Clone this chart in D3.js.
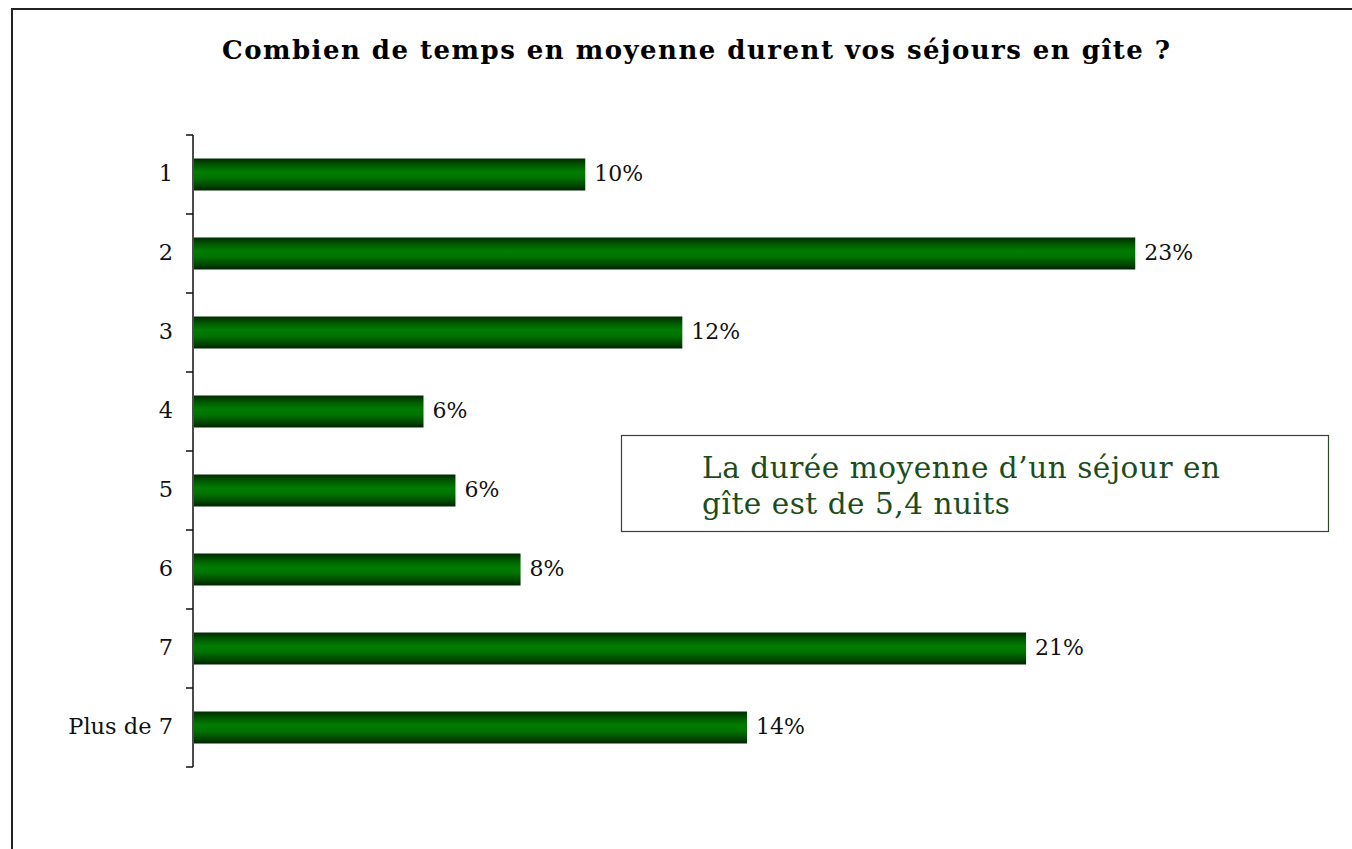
<!DOCTYPE html>
<head>
  <meta charset="utf-8">
  <title>Durée des séjours en gîte</title>
  <script src="https://cdn.jsdelivr.net/npm/d3@7"></script>
</head>

<style>
  body {
    margin: 0;
    background: #fff;
  }

  .title {
    font-family: "DejaVu Serif", serif;
    font-weight: bold;
    font-size: 26px;
  }

  .cat-label {
    font-family: "DejaVu Serif", serif;
    font-size: 22.5px;
    fill: #111;
  }

  .val-label {
    font-family: "DejaVu Serif", serif;
    font-size: 22px;
    fill: #111;
  }

  .note-text {
    font-family: "DejaVu Serif", serif;
    font-size: 29.5px;
    fill: #1b4d1b;
  }
</style>

<body>
  <svg id='chart'></svg>
</body>

<script>

var width = 1352,
    height = 849;

var categories = ['1', '2', '3', '4', '5', '6', '7', 'Plus de 7'];
var values = [0.097, 0.233, 0.121, 0.057, 0.0649, 0.081, 0.206, 0.137];
var title = 'Combien de temps en moyenne durent vos séjours en gîte ?';
var note_lines = ['La durée moyenne d\u2019un séjour en', 'gîte est de 5,4 nuits'];
var note_widths = [518, 308];

var svg = d3.select('#chart')
  .attr('width', width)
  .attr('height', height);

// gradient for the bars (dark edges, bright middle)
var grad = svg.append('defs').append('linearGradient')
  .attr('id', 'bar-grad')
  .attr('x1', 0).attr('y1', 0).attr('x2', 0).attr('y2', 1);
[[0, '#002a00'], [0.22, '#005c00'], [0.42, '#007c00'], [0.6, '#007400'], [0.8, '#005000'], [1, '#002400']]
  .forEach(function(s) {
    grad.append('stop').attr('offset', s[0]).attr('stop-color', s[1]);
  });

// outer frame
svg.append('rect')
  .attr('x', 12).attr('y', 9)
  .attr('width', width).attr('height', height)
  .attr('fill', 'none')
  .attr('stroke', '#222')
  .attr('stroke-width', 2);

svg.append('text')
  .attr('class', 'title')
  .attr('x', 222)
  .attr('y', 59)
  .attr('textLength', 948)
  .attr('lengthAdjust', 'spacing')
  .text(title);

var x0 = 193;

var x = d3.scaleLinear()
  .domain([0, 0.25])
  .range([x0, x0 + 1011]);

var y = d3.scaleBand()
  .domain(categories)
  .range([135, 767])
  .paddingInner(0.595)
  .paddingOuter(0.2975);

var gap = (y.step() - y.bandwidth()) / 2;

// axis line and boundary ticks
var axis_g = svg.append('g');
axis_g.append('line')
  .attr('x1', x0).attr('x2', x0)
  .attr('y1', 135).attr('y2', 767)
  .attr('stroke', '#111')
  .attr('stroke-width', 1.5);

var bounds = categories.map(function(d) { return y(d) - gap; }).concat([767]);
axis_g.selectAll('.tick-line')
  .data(bounds)
  .enter()
  .append('line')
  .attr('x1', x0 - 7).attr('x2', x0)
  .attr('y1', function(d) { return d; })
  .attr('y2', function(d) { return d; })
  .attr('stroke', '#111')
  .attr('stroke-width', 1.5);

svg.selectAll('.cat-label')
  .data(categories)
  .enter()
  .append('text')
  .attr('class', 'cat-label')
  .attr('x', 173)
  .attr('y', function(d) { return y(d) + y.bandwidth() / 2 + 6; })
  .attr('text-anchor', 'end')
  .text(function(d) { return d; });

svg.selectAll('.bar')
  .data(values)
  .enter()
  .append('rect')
  .attr('class', 'bar')
  .attr('x', x0 + 1)
  .attr('y', function(_, i) { return y(categories[i]); })
  .attr('width', function(d) { return x(d) - x0 - 1; })
  .attr('height', y.bandwidth())
  .attr('fill', 'url(#bar-grad)');

svg.selectAll('.val-label')
  .data(values)
  .enter()
  .append('text')
  .attr('class', 'val-label')
  .attr('x', function(d) { return x(d) + 9; })
  .attr('y', function(_, i) { return y(categories[i]) + y.bandwidth() / 2 + 6; })
  .text(function(d) { return Math.round(d * 100) + '%'; });

// note box
svg.append('rect')
  .attr('x', 621.5).attr('y', 435.5)
  .attr('width', 707).attr('height', 96)
  .attr('fill', '#fff')
  .attr('stroke', '#2e4a2e')
  .attr('stroke-width', 1.2);

svg.selectAll('.note-text')
  .data(note_lines)
  .enter()
  .append('text')
  .attr('class', 'note-text')
  .attr('x', 702)
  .attr('y', function(_, i) { return 478 + i * 36; })
  .attr('textLength', function(_, i) { return note_widths[i]; })
  .attr('lengthAdjust', 'spacing')
  .text(function(d) { return d; });

</script>
